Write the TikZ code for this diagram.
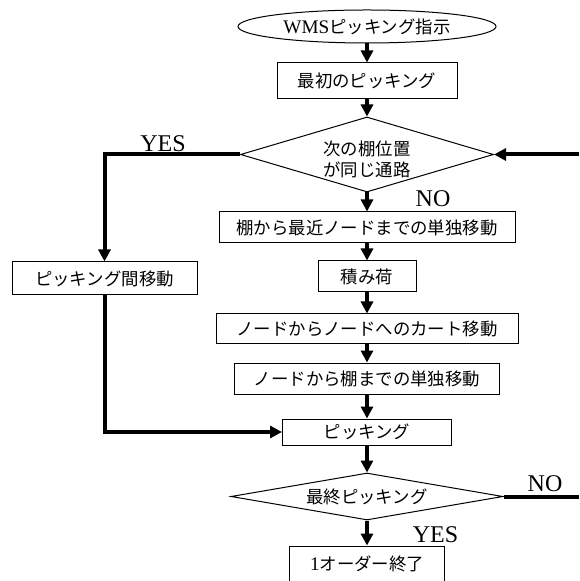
\documentclass[tikz,border=0pt]{standalone}
\usepackage{fontspec}
\setmainfont{Liberation Serif}
\newfontfamily\jp{Noto Sans CJK JP}
\usetikzlibrary{shapes.geometric,arrows.meta}
\newcommand\lt[1]{{\rmfamily\fontsize{9.6}{10.5}\selectfont #1}}
\tikzset{
  jpfont/.style={font=\jp\fontsize{8.7}{10.5}\selectfont},
  box/.style={draw, line width=0.5pt, rectangle, inner sep=0pt, jpfont},
  decision/.style={draw, line width=0.5pt, diamond, inner sep=0pt},
  dtext/.style={inner sep=0pt, jpfont, align=center},
  flow/.style={line width=2pt, -{Triangle[length=6pt,width=6pt]}},
  plain/.style={line width=2pt},
  lbl/.style={inner sep=0pt, font=\rmfamily\fontsize{12}{14}\selectfont}
}
\begin{document}
\begin{tikzpicture}[x=0.5pt,y=-0.5pt]
\useasboundingbox (0,0) rectangle (579,581);
\node[draw, line width=0.5pt, ellipse, inner sep=0pt, minimum width=129pt, minimum height=16.5pt, jpfont] (e) at (367,26.5) {\makebox[0pt]{\lt{WMS}ピッキング指示}};
\node[box, minimum width=90pt, minimum height=18pt] (b1) at (367,81) {最初のピッキング};
\node[decision, minimum width=126.5pt, minimum height=37.5pt] (d1) at (367,154.5) {};
\node[dtext] (d1t) at (367,159) {次の棚位置\\が同じ通路};
\node[box, minimum width=92.5pt, minimum height=16.5pt] (pm) at (104.5,278.5) {ピッキング間移動};
\node[box, minimum width=148pt, minimum height=15.5pt] (b2) at (367,227.5) {棚から最近ノードまでの単独移動};
\node[box, minimum width=49pt, minimum height=15.5pt] (b3) at (367,276.5) {積み荷};
\node[box, minimum width=151pt, minimum height=15pt] (b4) at (367,329) {ノードからノードへのカート移動};
\node[box, minimum width=132.5pt, minimum height=15.5pt] (b5) at (367,378.5) {ノードから棚までの単独移動};
\node[box, minimum width=84.5pt, minimum height=13pt] (pk) at (367,432) {ピッキング};
\node[decision, minimum width=136pt, minimum height=23.5pt] (d2) at (367,496.5) {};
\node[dtext] (d2t) at (367,497) {最終ピッキング};
\node[box, minimum width=77.5pt, minimum height=18pt] (end) at (367,564) {\lt{1}オーダー終了};
\coordinate (rin) at (579,154.5);
\coordinate (rout) at (579,496.5);
\node[lbl] (yes1) at (163,144) {YES};
\node[lbl] (no1) at (433,198.5) {NO};
\node[lbl] (no2) at (545,483.5) {NO};
\node[lbl] (yes2) at (435.5,534.5) {YES};
\draw[flow] (e.south) -- (b1.north);
\draw[flow] (b1.south) -- (d1.north);
\draw[flow] (d1.west) -| (pm.north);
\draw[flow] (rin) -- (d1.east);
\draw[flow] (d1.south) -- (b2.north);
\draw[flow] (b2.south) -- (b3.north);
\draw[flow] (b3.south) -- (b4.north);
\draw[flow] (b4.south) -- (b5.north);
\draw[flow] (b5.south) -- (pk.north);
\draw[flow] (pm.south) |- (pk.west);
\draw[flow] (pk.south) -- (d2.north);
\draw[plain] (d2.east) -- (rout);
\draw[flow] (d2.south) -- (end.north);
\end{tikzpicture}
\end{document}
